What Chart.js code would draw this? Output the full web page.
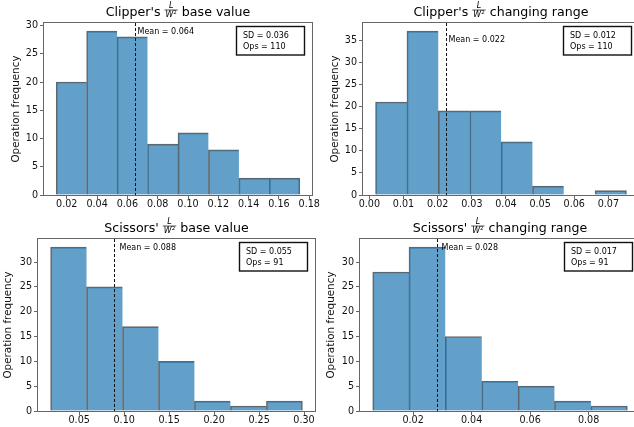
<!DOCTYPE html>
<html>
<head>
  <title>Clipper / Scissors L/W² histograms</title>
  <script src="https://cdn.jsdelivr.net/npm/chart.js"></script>
  <style>
    body { margin: 0; width: 634px; height: 427px; overflow: hidden; background: #fff; position: relative; }
    canvas { position: absolute; }
  </style>
</head>
<body>
  <canvas id="clipperBase" width="325" height="212" style="left:0;top:0"></canvas>
  <canvas id="clipperRange" width="330" height="212" style="left:317px;top:0"></canvas>
  <canvas id="scissorsBase" width="317" height="215" style="left:0;top:212px"></canvas>
  <canvas id="scissorsRange" width="330" height="215" style="left:317px;top:212px"></canvas>

  <script>
    // bin edges and counts
    const clipperBaseEdges = [0.0130, 0.0331, 0.0532, 0.0733, 0.0934, 0.1135, 0.1336, 0.1537, 0.1738];
    const clipperBaseCounts = [20, 29, 28, 9, 11, 8, 3, 3];
    const clipperRangeEdges = [0.0018, 0.0110, 0.0202, 0.0294, 0.0386, 0.0478, 0.0569, 0.0661, 0.0753];
    const clipperRangeCounts = [21, 37, 19, 19, 12, 2, 0, 1];
    const scissorsBaseEdges = [0.0182, 0.0582, 0.0982, 0.1382, 0.1782, 0.2182, 0.2582, 0.2982];
    const scissorsBaseCounts = [33, 25, 17, 10, 2, 1, 2];
    const scissorsRangeEdges = [0.0062, 0.0186, 0.0310, 0.0435, 0.0559, 0.0683, 0.0808, 0.0932];
    const scissorsRangeCounts = [28, 33, 15, 6, 5, 2, 1];

    const meanValues = [0.0648, 0.0224, 0.0885, 0.0283];
    const meanLabels = ['0.064', '0.022', '0.088', '0.028'];
    const sdLabels = ['0.036', '0.012', '0.055', '0.017'];
    const opsCounts = [110, 110, 91, 91];
    const xTickSteps = [0.02, 0.01, 0.05, 0.02];
    const yTickStep = 5;

    const titlePrefixes = ["Clipper's", "Clipper's", "Scissors'", "Scissors'"];
    const titleSuffixes = ['base value', 'changing range', 'base value', 'changing range'];
    const yLabel = 'Operation frequency';

    const FONT = '"DejaVu Sans"';

    const histExtras = {
      id: 'histExtras',
      afterDatasetsDraw(chart, args, o) {
        const { ctx, chartArea: a, scales: { x, y } } = chart;
        ctx.save();
        // mean line
        const mx = Math.round(x.getPixelForValue(o.mean)) + 0.5;
        ctx.strokeStyle = '#111';
        ctx.lineWidth = 1;
        ctx.setLineDash([3, 2]);
        ctx.beginPath();
        ctx.moveTo(mx, a.top);
        ctx.lineTo(mx, a.bottom);
        ctx.stroke();
        ctx.setLineDash([]);

        ctx.font = '8px ' + FONT;
        ctx.fillStyle = '#000';
        ctx.textAlign = 'left';
        ctx.textBaseline = 'middle';
        ctx.fillText('Mean = ' + o.meanText, mx + o.meanDx, y.getPixelForValue(y.max * o.meanYFrac));

        // spines
        ctx.strokeStyle = '#666';
        ctx.lineWidth = 1;
        const l = Math.round(a.left) - 0.5, t = Math.round(a.top) - 0.5;
        ctx.strokeRect(l, t, Math.round(a.right) - Math.round(a.left) + 1, Math.round(a.bottom) - Math.round(a.top) + 1);

        // SD / Ops box
        const bw = 68, bh = 28.5;
        const bx = Math.round(a.right - 8 - bw) + 0.5, by = Math.round(a.top + 2.5) + 0.5;
        ctx.fillStyle = '#fff';
        ctx.fillRect(bx, by, bw, bh);
        ctx.strokeStyle = '#111';
        ctx.lineWidth = 1.4;
        ctx.strokeRect(bx, by, bw, bh);
        ctx.fillStyle = '#000';
        ctx.fillText('SD = ' + o.sd, bx + 6.5, by + 9.5);
        ctx.fillText('Ops = ' + o.ops, bx + 6.5, by + 20);
        ctx.restore();
      },
      afterDraw(chart, args, o) {
        const { ctx, chartArea: a } = chart;
        ctx.save();
        ctx.fillStyle = '#000';
        ctx.textBaseline = 'alphabetic';
        ctx.textAlign = 'left';
        const base = a.top - 7.5;
        ctx.font = '12.6px ' + FONT;
        const pre = o.prefix + ' ';
        const suf = ' ' + o.suffix;
        const wPre = ctx.measureText(pre).width;
        const wSuf = ctx.measureText(suf).width;
        ctx.font = 'italic 8px ' + FONT;
        const wL = ctx.measureText('L').width;
        const wW = ctx.measureText('W').width;
        ctx.font = '5.5px ' + FONT;
        const w2 = ctx.measureText('2').width;
        const fracW = Math.max(wL, wW + w2) + 2;
        const total = wPre + fracW + wSuf;
        let cx = (a.left + a.right) / 2 - total / 2;

        ctx.font = '12.6px ' + FONT;
        ctx.fillText(pre, cx, base);
        cx += wPre;
        const bar = base - 5.5;
        ctx.strokeStyle = '#111';
        ctx.lineWidth = 0.7;
        ctx.beginPath();
        ctx.moveTo(cx, bar);
        ctx.lineTo(cx + fracW, bar);
        ctx.stroke();
        ctx.font = 'italic 8px ' + FONT;
        ctx.fillText('L', cx + (fracW - wL) / 2, bar - 1.8);
        const dx = cx + (fracW - wW - w2) / 2;
        ctx.fillText('W', dx, base + 1.8);
        ctx.font = '5.5px ' + FONT;
        ctx.fillText('2', dx + wW, base - 1.5);
        cx += fracW;
        ctx.font = '12.6px ' + FONT;
        ctx.fillText(suf, cx, base);
        ctx.restore();
      }
    };

    function makeHist(id, k, edges, counts, frame) {
      const centers = counts.map((c, i) => (edges[i] + edges[i + 1]) / 2);
      const span = edges[edges.length - 1] - edges[0];
      const last = counts.length - 1;
      const tickFont = { family: FONT, size: 9.6 };
      const axisGrid = { drawOnChartArea: false, drawTicks: true, tickLength: 4, color: '#666', offset: false };

      new Chart(document.getElementById(id), {
        type: 'bar',
        data: {
          datasets: [{
            data: counts.map((c, i) => ({ x: centers[i], y: c })),
            backgroundColor: 'rgba(31, 119, 180, 0.7)',
            borderColor: 'rgba(0, 0, 0, 0.6)',
            // one shared edge between neighbouring bars
            borderWidth: ctx => ({ left: 1, top: 1, bottom: 0, right: ctx.dataIndex === last ? 1 : 0 }),
            borderSkipped: false,
            barThickness: 'flex',
            barPercentage: 1,
            categoryPercentage: 1
          }]
        },
        options: {
          responsive: false,
          animation: false,
          events: [],
          layout: { padding: { top: frame.top, right: frame.right, left: 0, bottom: 0 } },
          plugins: {
            legend: { display: false },
            tooltip: { enabled: false },
            histExtras: {
              mean: meanValues[k], meanText: meanLabels[k], meanDx: frame.meanDx, meanYFrac: frame.meanYFrac,
              sd: sdLabels[k], ops: opsCounts[k], prefix: titlePrefixes[k], suffix: titleSuffixes[k]
            }
          },
          scales: {
            x: {
              type: 'linear',
              offset: false,
              min: edges[0] - 0.05 * span,
              max: edges[edges.length - 1] + 0.05 * span,
              afterFit: s => { s.height = frame.xh; },
              grid: axisGrid,
              border: { display: false },
              ticks: {
                stepSize: xTickSteps[k], includeBounds: false, autoSkip: false, maxRotation: 0,
                padding: 0, color: '#111', font: tickFont,
                callback: v => v.toFixed(2)
              }
            },
            y: {
              min: 0,
              max: Math.max(...counts) * 1.05,
              afterFit: s => { s.width = frame.yw; },
              grid: axisGrid,
              border: { display: false },
              ticks: {
                stepSize: yTickStep, includeBounds: false, padding: 2, color: '#111', font: tickFont,
                callback: v => Math.round(v)
              },
              title: {
                display: true, text: yLabel, color: '#111',
                font: { family: FONT, size: 10.4 },
                padding: { top: frame.ylab, bottom: 0 }
              }
            }
          }
        },
        plugins: [histExtras]
      });
    }

    makeHist('clipperBase', 0, clipperBaseEdges, clipperBaseCounts,
      { top: 23, right: 13, yw: 44, xh: 17, ylab: 10, meanDx: 2, meanYFrac: 0.95 });
    makeHist('clipperRange', 1, clipperRangeEdges, clipperRangeCounts,
      { top: 23, right: 8, yw: 46, xh: 17, ylab: 12.3, meanDx: 2, meanYFrac: 0.9 });
    makeHist('scissorsBase', 2, scissorsBaseEdges, scissorsBaseCounts,
      { top: 27, right: 2, yw: 38, xh: 16, ylab: 2.3, meanDx: 5, meanYFrac: 0.95 });
    makeHist('scissorsRange', 3, scissorsRangeEdges, scissorsRangeCounts,
      { top: 27, right: 7, yw: 43, xh: 16, ylab: 7.7, meanDx: 4, meanYFrac: 0.95 });
  </script>
</body>
</html>
